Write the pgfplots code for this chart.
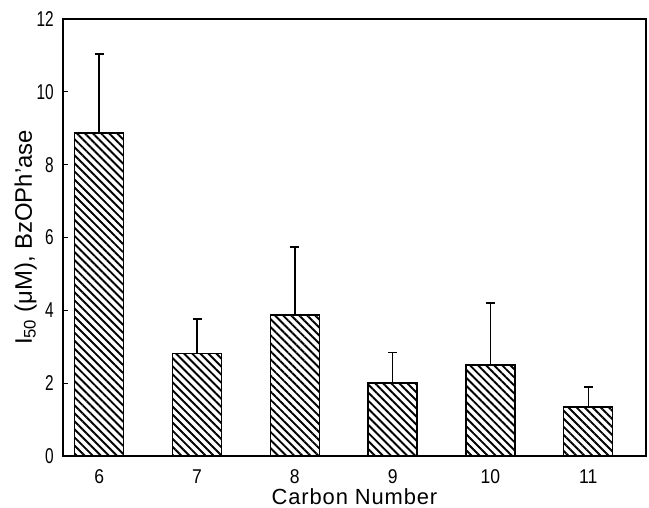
\documentclass[border=0pt]{standalone}
\usepackage{fontspec}
\setmainfont{Liberation Sans}
\newfontfamily\narrowfont[FakeStretch=0.72]{Liberation Sans}
\newfontfamily\midfont[FakeStretch=0.88]{Liberation Sans}
\newfontfamily\spacedfont[LetterSpace=4]{Liberation Sans}
\usepackage{pgfplots}
\pgfplotsset{compat=1.18}
\usetikzlibrary{patterns.meta}
\begin{document}
\begin{tikzpicture}
\begin{axis}[
  scale only axis, width=583bp, height=437bp,
  xmin=5.63, xmax=11.59, ymin=0, ymax=12,
  axis line style={line width=1.4bp},
  xtick={6,7,8,9,10,11},
  ytick={0,2,4,6,8,10,12},
  major x tick style={draw=none},
  ytick pos=left, tick align=inside,
  major tick length=5bp,
  y tick style={line width=1.2bp, black},
  /pgf/number format/assume math mode=true,
  tick label style={inner sep=0pt},
  yticklabel style={font=\narrowfont\fontsize{21.5}{21.5}\selectfont, xshift=-9bp},
  xticklabel style={font=\midfont\fontsize{20}{20}\selectfont, yshift=-8.5bp},
  xlabel={Carbon Number},
  ylabel={I\textsubscript{50} (μM), BzOPh'ase},
  label style={inner sep=0pt},
  xlabel style={font=\spacedfont\fontsize{22}{24}\selectfont, at={(axis description cs:0.5,0)}, anchor=base, yshift=-48bp},
  ylabel style={font=\fontsize{24}{26}\selectfont, at={(axis description cs:-0.0532,0.5)}, anchor=base},
  ybar, bar width=49bp,
]
\coordinate (bl) at (rel axis cs:0,0);
\coordinate (tr) at (rel axis cs:1,1);
\addplot[draw=black, line width=1.4bp,
  pattern={Lines[angle=-45,distance=5.7bp,line width=1.9bp]},
  error bars/.cd, y dir=plus, y explicit,
  error bar style={line width=1.4bp, black},
  error mark options={rotate=90, black, line width=1.4bp, mark size=4.5bp}]
  table[x=x, y=y, y error=e] {
x y e
6 8.87 2.17
7 2.82 0.94
8 3.87 1.87
9 2.00 0.85
10 2.50 1.70
11 1.35 0.54
};
\end{axis}
\pgfresetboundingbox
\path ([shift={(-63bp,-52bp)}]bl) rectangle ([shift={(3bp,19bp)}]tr);
\end{tikzpicture}
\end{document}
